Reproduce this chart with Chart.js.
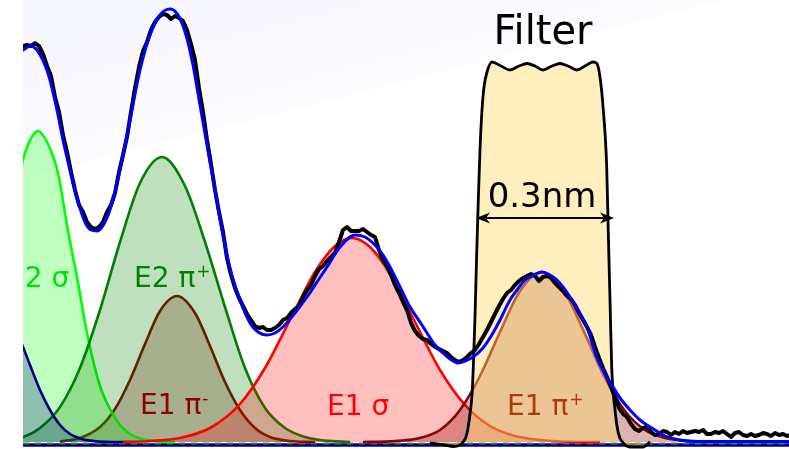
<!DOCTYPE html>
<html>
<head>
<meta charset="utf-8">
<script src="https://cdn.jsdelivr.net/npm/chart.js@4.4.1/dist/chart.umd.min.js"></script>
<style>
  html, body { margin: 0; padding: 0; background: #ffffff; overflow: hidden; }
  canvas { display: block; }
</style>
</head>
<body>
<canvas id="spectrum" width="789" height="449"></canvas>
<script>
// Measured spectrum: counts on a regular detector-channel grid
const dataStartChannel = -4;
const dataChannelStep = 4;
const measuredCounts = [
  395,396,397,396,399,396,388,376,366,345,
  330,307,290,270,252,237,230,220,215,213,
  215,220,230,237,249,270,287,305,330,354,
  375,391,400,412,420,425,428,427,423,426,
  424,421,412,398,382,354,330,302,278,252,
  230,210,184,167,154,144,136,128,122,116,
  114,115,112,112,114,117,122,124,129,133,
  136,145,152,157,166,173,176,181,185,189,
  200,212,215,211,211,211,213,210,207,205,
  192,182,176,167,157,149,140,132,119,111,
  106,103,102,98,95,93,91,89,85,82,
  80,82,85,89,92,98,105,112,120,128,
  136,143,149,152,157,161,164,166,168,166,
  161,165,166,164,159,155,151,146,143,137,
  129,122,115,107,95,84,74,65,55,45,
  34,28,25,18,13,11,14,15,10,7,
  8,11,10,7,10,8,11,9,10,11,
  10,12,8,8,10,9,11,8,5,9,
  10,7,6,8,6,7,9,8,6,9,
  7,8,6,7
];

// Total fit
const fitChannels = [-5,0,7,14,22,27,34,40,47,54,62,68,74,82,90,97,107,117,127,137,
  147,155,163,170,177,184,192,199,207,217,227,235,244,252,260,272,284,294,304,317,
  332,342,350,360,367,377,387,397,404,412,420,427,435,442,450,460,470,477,487,494,
  502,507,519,527,534,540,547,555,564,570,574,582,590,597,607,617,624,632,640,657,674,766];
const fitCounts = [390,392,396,392,377,362,332,302,272,244,220,212,211,220,242,272,322,372,407,427,
  433,427,407,377,337,297,252,212,174,142,119,110,107,109,115,129,145,160,175,195,
  207,205,199,187,175,155,135,120,109,97,89,83,79,81,85,94,109,122,142,152,
  162,165,170,167,162,155,145,132,115,96,84,68,55,44,32,22,17,12,7,2,0.5,0.5];

// Fitted line components
const e2SigmaNavyChannels = [-33,-23,-13,0,7,17,27,37,47,57,67,82,107];
const e2SigmaNavyCounts   = [124,127,124,95,77,52,32,17,8,3.6,1.4,0.3,0];

const e2SigmaChannels = [-23,-13,0,7,15,25,35,45,54,65,77,87,97,107,117,132,152];
const e2SigmaCounts   = [167,222,282,302,311,298,269,211,165,104,56,33,17,8,3.5,0.8,0];

const e2PiPlusChannels = [-23,0,17,37,57,77,97,117,139,162,182,202,222,242,262,282,302,327];
const e2PiPlusCounts   = [1.5,5,14,35,74,132,200,259,285,256,200,135,74,34,14,5,1.4,0];

const e1PiMinusChannels = [37,57,77,92,107,122,137,154,172,187,202,217,232,247,267,292];
const e1PiMinusCounts   = [0.5,4,15,33,62,98,131,146,129,96,60,32,14,5,1,0];

const e1SigmaChannels = [100,127,157,187,217,242,267,292,312,329,347,367,392,417,442,467,492,517,547,577];
const e1SigmaCounts   = [0,1,4,14,38,74,122,170,196,204,195,168,120,72,37,16,6,2,0.3,0];

const e1PiPlusChannels = [340,367,397,417,437,457,477,497,519,542,562,582,602,622,642,667,697];
const e1PiPlusCounts   = [0,0.6,4,12,32,66,110,151,170,149,108,64,31,12,4,1,0];

// Band-pass filter transmission (scaled to counts)
const filterChannels = [407,422,430,436,440,443,445,447,449,450.3,452,453.7,455.3,457,459,461,464,469,
  478,487,496,504,512,520,529,537,545,554,562,570,
  573.7,577,580.3,583.7,585.3,587,588.7,592,595.3,600.3,607,620,627];
const filterCounts = [-1,-3,-4.5,-3.5,0,5,14,28,47,75,125,189,242,292,332,355,370,380,
  376,372,376,378.5,376,372,376,378.5,376,372,376,380,
  378.7,365,332,275,209,142,75,32,9,-1,-5,-5,0];

// Peak labels
const peakNames = ['E2 σ', 'E2 π', 'E1 π', 'E1 σ', 'E1 π'];
const peakSuperscripts = ['', '+', '-', '', '+'];

// Filter annotation
const filterTitle = 'Filter';
const filterWidthText = '0.3nm';
const filterEdgeChannels = [453, 591];

// ---- styling / placement ----
const labelAnchors = [[-16, 155], [111, 155], [117, 28], [304, 27], [484, 27]];
const labelColors = ['#00e000', '#008000', '#8b0000', '#ff0000', '#a83c0c'];
const FONT = '"DejaVu Sans", "Liberation Sans", sans-serif';

const xy = (xs, ys) => xs.map((v, i) => ({ x: v, y: ys[i] }));
const measuredPoints = measuredCounts.map((c, i) => ({ x: dataStartChannel + i * dataChannelStep, y: c }));

function component(label, xs, ys, line, fillColor, order) {
  return {
    label, data: xy(xs, ys), borderColor: line, backgroundColor: fillColor,
    fill: 'origin', borderWidth: 2.6, pointRadius: 0, cubicInterpolationMode: 'monotone',
    order, clip: 0
  };
}

const plotBackground = {
  id: 'plotBackground',
  beforeDraw(chart) {
    const { ctx, chartArea: a } = chart;
    ctx.save();
    ctx.fillStyle = '#ffffff';
    ctx.fillRect(0, 0, chart.width, chart.height);
    const g = ctx.createLinearGradient(a.left, a.top, a.left + 43, a.top + 169);
    g.addColorStop(0, '#f5f5fd');
    g.addColorStop(0.5, '#f8f8fe');
    g.addColorStop(0.98, '#fcfcff');
    g.addColorStop(1, '#ffffff');
    ctx.fillStyle = g;
    ctx.fillRect(a.left, a.top, a.right - a.left, a.bottom - a.top);
    ctx.restore();
  }
};

const zeroLine = {
  id: 'zeroLine',
  beforeDatasetsDraw(chart) {
    const { ctx, chartArea: a, scales: { y } } = chart;
    const py = y.getPixelForValue(0);
    ctx.save();
    ctx.lineWidth = 3.5;
    ctx.strokeStyle = '#00008b';
    ctx.beginPath(); ctx.moveTo(a.left, py + 3); ctx.lineTo(a.right, py + 3); ctx.stroke();
    ctx.setLineDash([6, 6]);
    ctx.lineWidth = 2;
    ctx.strokeStyle = '#3a8a2a';
    ctx.beginPath(); ctx.moveTo(a.left, py + 1.5); ctx.lineTo(a.right, py + 1.5); ctx.stroke();
    ctx.restore();
  }
};

const textLayer = {
  id: 'textLayer',
  afterDatasetsDraw(chart) {
    const { ctx, chartArea: a, scales: { x, y } } = chart;
    ctx.save();
    ctx.beginPath();
    ctx.rect(a.left, a.top, a.right - a.left, a.bottom - a.top);
    ctx.clip();
    ctx.textBaseline = 'alphabetic';
    ctx.textAlign = 'left';
    peakNames.forEach((name, i) => {
      const px = x.getPixelForValue(labelAnchors[i][0]);
      const py = y.getPixelForValue(labelAnchors[i][1]);
      ctx.fillStyle = labelColors[i];
      ctx.font = '28px ' + FONT;
      ctx.fillText(name, px, py);
      if (peakSuperscripts[i]) {
        const w = ctx.measureText(name).width;
        ctx.font = '17px ' + FONT;
        ctx.fillText(peakSuperscripts[i], px + w + 1, py - 10);
      }
    });

    // filter width arrow
    const yA = y.getPixelForValue(224);
    const xL = x.getPixelForValue(filterEdgeChannels[0]);
    const xR = x.getPixelForValue(filterEdgeChannels[1]);
    ctx.strokeStyle = '#000'; ctx.fillStyle = '#000'; ctx.lineWidth = 2;
    ctx.beginPath(); ctx.moveTo(xL + 5, yA); ctx.lineTo(xR - 5, yA); ctx.stroke();
    ctx.beginPath();
    ctx.moveTo(xL, yA); ctx.lineTo(xL + 14, yA - 5.5); ctx.lineTo(xL + 10, yA); ctx.lineTo(xL + 14, yA + 5.5);
    ctx.closePath(); ctx.fill();
    ctx.beginPath();
    ctx.moveTo(xR, yA); ctx.lineTo(xR - 14, yA - 5.5); ctx.lineTo(xR - 10, yA); ctx.lineTo(xR - 14, yA + 5.5);
    ctx.closePath(); ctx.fill();

    ctx.textAlign = 'center';
    ctx.font = '34px ' + FONT;
    ctx.fillText(filterWidthText, x.getPixelForValue(519), y.getPixelForValue(235));
    ctx.font = '40px ' + FONT;
    ctx.fillText(filterTitle, x.getPixelForValue(520), y.getPixelForValue(398));
    ctx.restore();
  }
};

new Chart(document.getElementById('spectrum'), {
  type: 'line',
  data: {
    datasets: [
      { label: 'fit', data: xy(fitChannels, fitCounts), borderColor: '#0000ff', borderWidth: 3,
        pointRadius: 0, fill: false, cubicInterpolationMode: 'monotone', order: 1, clip: 0 },
      { label: 'measured', data: measuredPoints, borderColor: '#000000', borderWidth: 4,
        pointRadius: 0, fill: false, tension: 0, borderJoinStyle: 'round', order: 2, clip: 0 },
      { label: 'filter', data: xy(filterChannels, filterCounts), borderColor: '#000000', borderWidth: 2.8,
        backgroundColor: 'rgba(255,220,110,0.45)', fill: 'origin', pointRadius: 0,
        cubicInterpolationMode: 'monotone', order: 4, clip: 0 },
      component('E1 π+', e1PiPlusChannels, e1PiPlusCounts, '#8b0000', 'rgba(139,0,0,0.3)', 5),
      component('E1 σ', e1SigmaChannels, e1SigmaCounts, '#ff0000', 'rgba(255,0,0,0.25)', 6),
      component('E2 σ (wing)', e2SigmaNavyChannels, e2SigmaNavyCounts, '#000080', 'rgba(0,0,128,0.25)', 7),
      component('E2 π+', e2PiPlusChannels, e2PiPlusCounts, '#008000', 'rgba(0,128,0,0.25)', 8),
      component('E2 σ', e2SigmaChannels, e2SigmaCounts, '#00ff00', 'rgba(0,255,0,0.25)', 9),
      component('E1 π-', e1PiMinusChannels, e1PiMinusCounts, '#800000', 'rgba(128,0,0,0.25)', 10)
    ]
  },
  options: {
    responsive: false,
    animation: false,
    devicePixelRatio: 1,
    layout: { padding: { left: 23, right: 0, top: 0, bottom: 0 } },
    scales: {
      x: { type: 'linear', min: 0, max: 766, display: false },
      y: { type: 'linear', min: -7, max: 442, display: false }
    },
    plugins: { legend: { display: false }, tooltip: { enabled: false } }
  },
  plugins: [plotBackground, zeroLine, textLayer]
});
</script>
</body>
</html>
